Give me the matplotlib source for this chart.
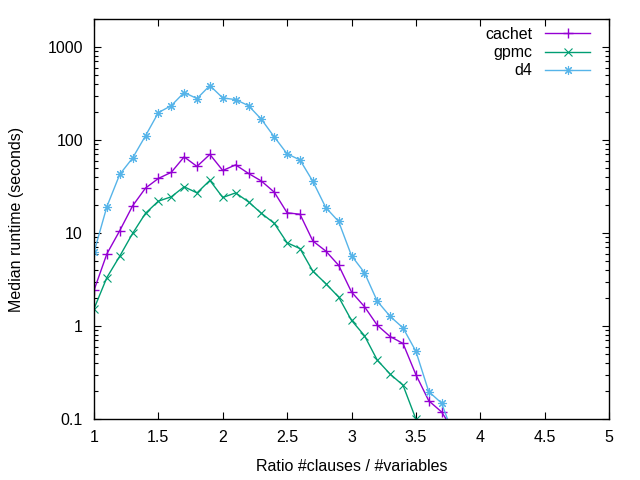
import matplotlib
matplotlib.use('Agg')
import matplotlib.pyplot as plt
from matplotlib.ticker import FixedLocator, LogLocator, NullFormatter

plt.rcParams['font.family'] = ['Liberation Sans', 'DejaVu Sans']

ratio = [1.0, 1.1, 1.2, 1.3, 1.4, 1.5, 1.6, 1.7, 1.8, 1.9,
         2.0, 2.1, 2.2, 2.3, 2.4, 2.5, 2.6, 2.7, 2.8, 2.9,
         3.0, 3.1, 3.2, 3.3, 3.4, 3.5, 3.6, 3.7, 3.8]
cachet = [2.42, 5.97, 10.6, 19.6, 30.4, 38.6, 44.9, 65.8, 52.0, 70.0,
          47.0, 54.0, 43.7, 36.2, 27.5, 16.5, 15.9, 8.2, 6.4, 4.5,
          2.32, 1.62, 1.02, 0.77, 0.65, 0.30, 0.157, 0.119, 0.072]
gpmc = [1.53, 3.32, 5.64, 9.9, 16.3, 22.0, 24.5, 31.4, 27.0, 36.8,
        24.1, 27.0, 21.6, 16.3, 12.7, 7.85, 6.8, 3.88, 2.86, 2.05,
        1.15, 0.79, 0.43, 0.304, 0.231, 0.1, 0.05]
d4 = [6.2, 19.2, 42.7, 64.0, 111, 197, 234, 324, 279, 385,
      283, 272, 234, 167, 108, 71, 61, 35.9, 18.8, 13.3,
      5.7, 3.76, 1.85, 1.27, 0.955, 0.535, 0.197, 0.148, 0.062]
labels = ['cachet', 'gpmc', 'd4']
xticks = [1, 1.5, 2, 2.5, 3, 3.5, 4, 4.5, 5]
yticks = [0.1, 1, 10, 100, 1000]

fs = 11.5
fig = plt.figure(figsize=(6.4, 4.8), dpi=100)
ax = fig.add_axes([94 / 640, 61 / 480, 515 / 640, 400 / 480])

ax.plot(ratio, cachet, color='#9400d3', marker='+', ms=6.5, mew=1, lw=1, label=labels[0])
ax.plot(ratio[:len(gpmc)], gpmc, color='#009e73', marker='x', ms=5.5, mew=0.8, lw=1, label=labels[1])
ax.plot(ratio, d4, color='#56b4e9', marker=(8, 2, 0), ms=6.5, mew=0.8, lw=1, label=labels[2])

ax.set_yscale('log')
ax.set_xlim(1, 5)
ax.set_ylim(0.1, 2000)
ax.xaxis.set_major_locator(FixedLocator(xticks))
ax.set_xticklabels(['1', '1.5', '2', '2.5', '3', '3.5', '4', '4.5', '5'])
ax.yaxis.set_major_locator(FixedLocator(yticks))
ax.set_yticklabels(['0.1', '1', '10', '100', '1000'])
ax.yaxis.set_minor_locator(LogLocator(base=10, subs=range(2, 10)))
ax.yaxis.set_minor_formatter(NullFormatter())

ax.tick_params(which='both', direction='in', top=True, right=True,
               labelsize=fs, width=0.8, pad=8, colors='black')
ax.tick_params(which='major', length=5)
ax.tick_params(which='minor', length=3)
for s in ax.spines.values():
    s.set_linewidth(1)

ax.set_xlabel('Ratio #clauses / #variables', fontsize=fs, labelpad=10)
ax.set_ylabel('Median runtime (seconds)', fontsize=fs, labelpad=17)

ax.legend(loc='upper right', bbox_to_anchor=(590 / 640, 1 - 27 / 480),
          bbox_transform=fig.transFigure, frameon=False, markerfirst=False,
          numpoints=1, handlelength=2.8, handletextpad=0.8, labelspacing=0.2,
          fontsize=fs, borderpad=0, borderaxespad=0)

fig.savefig('out.png', dpi=100)
